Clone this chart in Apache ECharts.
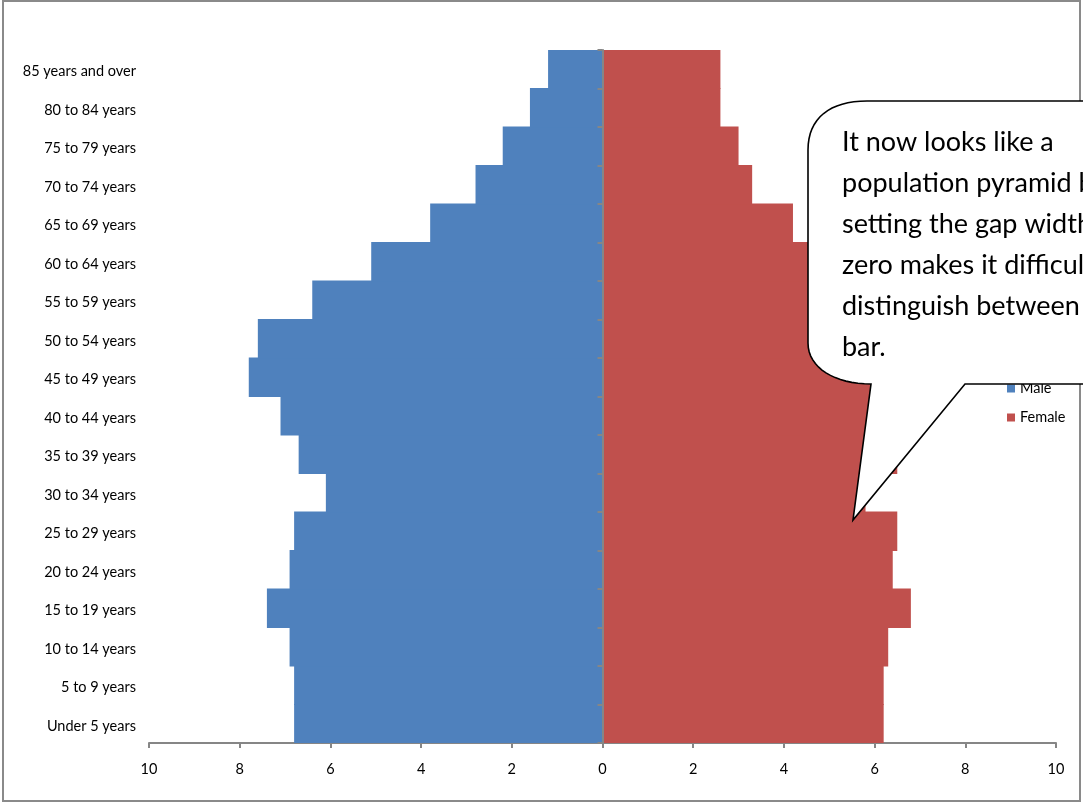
<!DOCTYPE html>
<html>
<head>
<meta charset="utf-8">
<script src="https://cdn.jsdelivr.net/npm/echarts@6/dist/echarts.min.js"></script>
<style>
  html, body { margin: 0; padding: 0; background: #fff; }
  #chart { width: 1083px; height: 803px; }
</style>
</head>
<body>
<div id="chart"></div>
<script>
// Age groups, youngest at the bottom of the pyramid
const ages = [
  'Under 5 years', '5 to 9 years', '10 to 14 years', '15 to 19 years',
  '20 to 24 years', '25 to 29 years', '30 to 34 years', '35 to 39 years',
  '40 to 44 years', '45 to 49 years', '50 to 54 years', '55 to 59 years',
  '60 to 64 years', '65 to 69 years', '70 to 74 years', '75 to 79 years',
  '80 to 84 years', '85 years and over'
];
// Share of each sex's population in every age group (%)
const male   = [6.8, 6.8, 6.9, 7.4, 6.9, 6.8, 6.1, 6.7, 7.1, 7.8, 7.6, 6.4, 5.1, 3.8, 2.8, 2.2, 1.6, 1.2];
const female = [6.2, 6.2, 6.3, 6.8, 6.4, 6.5, 5.8, 6.5, 6.9, 7.6, 7.4, 6.6, 5.4, 4.2, 3.3, 3.0, 2.6, 2.6];
const seriesNames = ['Male', 'Female'];
const noteLines = [
  'It now looks like a',
  'population pyramid but',
  'setting the gap width to',
  'zero makes it difficult to',
  'distinguish between each',
  'bar.'
];

const FONT = 'Lato, "Open Sans", sans-serif';
const AXIS_GRAY = '#868686';
const MALE_BLUE = '#4F81BD';
const FEMALE_RED = '#C0504D';

// Sample a cubic Bezier into points for the callout outline
function cubic(p0, p1, p2, p3, steps) {
  const pts = [];
  for (let i = 1; i <= steps; i++) {
    const t = i / steps, u = 1 - t;
    pts.push([
      u * u * u * p0[0] + 3 * u * u * t * p1[0] + 3 * u * t * t * p2[0] + t * t * t * p3[0],
      u * u * u * p0[1] + 3 * u * u * t * p1[1] + 3 * u * t * t * p2[1] + t * t * t * p3[1]
    ]);
  }
  return pts;
}

// Speech bubble: rounded body on the right with a pointer aimed at the bars
const bubble = [[867, 101], [1130, 101], [1130, 384], [965, 384], [853, 520], [871, 384]]
  .concat(cubic([871, 384], [835, 384], [808, 368], [808, 343], 16))
  .concat([[808, 150]])
  .concat(cubic([808, 150], [808, 118], [830, 101], [867, 101], 16));

const chart = echarts.init(document.getElementById('chart'), null, { renderer: 'canvas' });

chart.setOption({
  backgroundColor: '#ffffff',
  animation: false,
  grid: { left: 149, right: 27, top: 50, bottom: 60, containLabel: false },
  legend: {
    data: seriesNames,
    orient: 'vertical',
    left: 1002,
    top: 376,
    itemWidth: 8,
    itemHeight: 8,
    itemGap: 14,
    icon: 'rect',
    z: 1,
    textStyle: { fontFamily: FONT, fontSize: 14.5, color: '#000' }
  },
  xAxis: {
    type: 'value',
    min: -10,
    max: 10,
    interval: 2,
    splitLine: { show: false },
    splitArea: { show: false },
    axisLine: { show: true, lineStyle: { color: AXIS_GRAY, width: 2 } },
    axisTick: { show: true, length: 5, lineStyle: { color: AXIS_GRAY, width: 2 } },
    axisLabel: {
      margin: 19,
      fontFamily: FONT,
      fontSize: 14.5,
      color: '#000',
      formatter: v => String(Math.abs(v))
    }
  },
  yAxis: [
    {
      // category labels sit at the far left
      type: 'category',
      data: ages,
      position: 'left',
      splitLine: { show: false },
      splitArea: { show: false },
      axisLine: { show: false, onZero: false },
      axisTick: { show: false },
      axisLabel: {
        margin: 13,
        verticalAlign: 'top',
        lineHeight: 5,
        fontFamily: FONT,
        fontSize: 14.5,
        color: '#000'
      }
    },
    {
      // centre spine with boundary ticks, drawn over the bars
      type: 'category',
      data: ages,
      position: 'left',
      z: 5,
      splitLine: { show: false },
      splitArea: { show: false },
      axisLine: { show: true, onZero: true, lineStyle: { color: AXIS_GRAY, width: 2 } },
      axisTick: { show: true, length: 5, lineStyle: { color: AXIS_GRAY, width: 2 } },
      axisLabel: { show: false }
    }
  ],
  series: [
    {
      name: seriesNames[0],
      type: 'bar',
      yAxisIndex: 0,
      data: male.map(v => -v),
      barWidth: '103%',
      barGap: '-100%',
      itemStyle: { color: MALE_BLUE }
    },
    {
      name: seriesNames[1],
      type: 'bar',
      yAxisIndex: 0,
      data: female,
      barWidth: '103%',
      barGap: '-100%',
      itemStyle: { color: FEMALE_RED }
    }
  ],
  graphic: [
    {
      // outer chart frame
      type: 'rect',
      z: 10,
      shape: { x: 3, y: 1, width: 1077, height: 800 },
      style: { fill: 'none', stroke: '#8a8a8a', lineWidth: 2 }
    },
    {
      type: 'polygon',
      z: 20,
      shape: { points: bubble },
      style: { fill: '#ffffff', stroke: '#000000', lineWidth: 1.6, lineJoin: 'miter' }
    },
    {
      type: 'text',
      z: 21,
      left: 842,
      top: 122,
      style: {
        text: noteLines.join('\n'),
        font: '27px ' + FONT,
        fill: '#000',
        lineHeight: 41
      }
    }
  ]
});
</script>
</body>
</html>
